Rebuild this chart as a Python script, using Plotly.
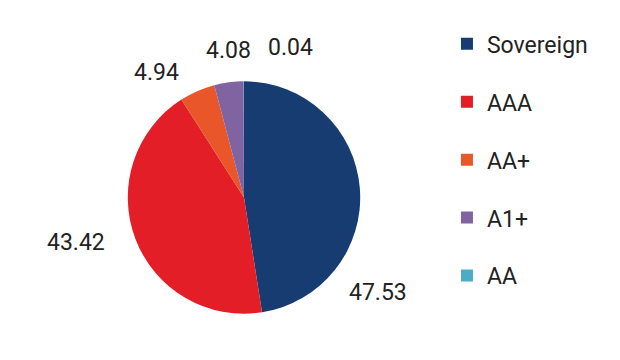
import plotly.graph_objects as go

categories = ["Sovereign", "AAA", "AA+", "A1+", "AA"]
values = [47.53, 43.42, 4.94, 4.08, 0.04]
colors = ["#173C71", "#E31E26", "#E8562A", "#8064A2", "#4BACC6"]

# label anchor positions (paper coords), one per slice, in category order
label_pos = [(0.597, 0.211), (0.110, 0.350), (0.239, 0.822), (0.355, 0.883), (0.455, 0.891)]

FONT = "Roboto"
TXT = "#222222"

fig = go.Figure()
fig.add_trace(go.Pie(
    labels=categories, values=values, sort=False, direction="clockwise", rotation=0,
    marker=dict(colors=colors, line=dict(width=0)),
    textinfo="none", showlegend=False, hoverinfo="label+value",
    domain=dict(x=[0.1927, 0.5686], y=[0.1508, 0.7964]),
))
for c, col in zip(categories, colors):
    fig.add_trace(go.Scatter(
        x=[None], y=[None], mode="markers", name=c, legendgroup=c,
        marker=dict(symbol="square", size=12, color=col),
    ))

annotations = [
    dict(x=px, y=py, xref="paper", yref="paper", text=f"{v:.2f}", showarrow=False,
         xanchor="center", yanchor="middle", font=dict(family=FONT, size=23, color=TXT))
    for v, (px, py) in zip(values, label_pos)
]

fig.update_layout(
    width=620, height=360, margin=dict(l=0, r=0, t=0, b=0),
    paper_bgcolor="white", plot_bgcolor="white",
    font=dict(family=FONT, size=23, color=TXT),
    xaxis=dict(visible=False), yaxis=dict(visible=False),
    annotations=annotations,
    legend=dict(x=0.708, y=0.96, xanchor="left", yanchor="top",
                tracegroupgap=25, itemsizing="constant",
                font=dict(family=FONT, size=23, color=TXT)),
)
fig.write_html("out.html")
